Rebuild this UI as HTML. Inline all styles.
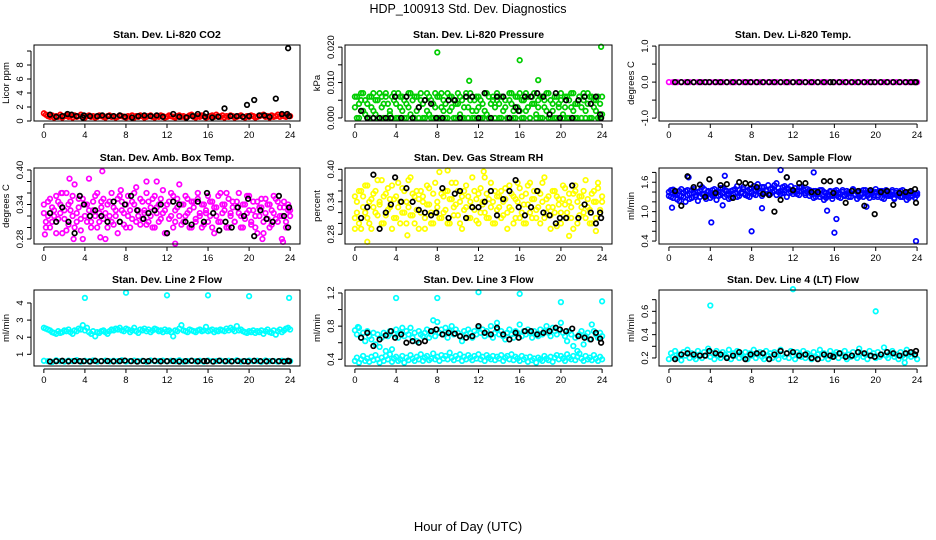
<!DOCTYPE html>
<html><head><meta charset="utf-8"><style>
html,body{margin:0;padding:0;background:#fff}
svg{display:block;font-family:"Liberation Sans",sans-serif}
</style></head><body>
<svg id="chart" width="936" height="540" viewBox="0 0 936 540" xmlns="http://www.w3.org/2000/svg">
<text x="468" y="13" text-anchor="middle" font-size="12.5">HDP_100913  Std. Dev. Diagnostics</text>
<text x="468" y="531" text-anchor="middle" font-size="13">Hour of Day (UTC)</text>
<g id="panels"></g>
</svg>
<script>
const blackHours=[.6,1.2,1.8,2.4,3.0,3.5,3.9,4.5,5.0,5.6,6.2,6.8,7.4,7.9,8.5,9.1,9.7,10.2,10.8,11.4,12.0,12.6,13.2,13.8,14.4,15.0,15.6,15.9,16.5,17.1,17.7,18.3,18.9,19.5,19.9,20.5,21.1,21.7,22.3,22.9,23.4,23.8,23.9];
const xTicks=[0,4,8,12,16,20,24];

const co2Red=[1.1,.9,.7,.6,.8,.5,.7,.6,.9,.5,.7,.8,.6,.7,.5,.8,.6,.7,.9,.6,.5,.7,.8,.6,.7,.5,.6,.8,.7,.6,.5,.7,.8,.6,.7,.5,.6,.8,.7,.6,.5,.7,.6,.8,.5,.7,.6,.8,.7,.5,.6,.7,.8,.6,.5,.7,.6,.8,.7,.5,.6,.8,.7,.6,.5,.7,.8,.6,.7,.5,.6,.8,.9,.6,.5,.7,.6,.8,.7,.5,.6,.7,.8,.6,.9,.7,.6,.8,.5,.7,.6,.8,.7,.5,.6,.7,.8,.6,.5,.7,.6,.8,.7,.5,.6,.7,.8,.9,.6,.7,.5,.8,.6,.7,.9,.6,.8,.7,.6,.8,.7];
const co2BlackHours=[.6,1.2,1.8,2.3,2.7,3.2,3.8,3.9,4.5,5.2,5.7,6.3,6.8,7.4,7.9,8.6,9.2,9.8,10.4,11.0,11.6,12.6,13.2,13.9,14.5,15.0,15.7,15.8,16.4,17.0,17.6,18.2,18.8,19.4,19.8,20.0,20.5,21.0,21.5,22.0,22.6,23.2,23.7,23.8,23.9];
const co2Black=[.9,.6,.7,1.0,.9,.7,.5,.8,.7,.7,.8,.7,.7,.8,.6,.5,.7,.8,.7,.8,.6,1.0,.6,.5,.7,1.0,.6,1.1,.5,.6,1.8,.7,.7,.6,2.3,.7,3.0,.8,.8,.6,3.2,1.0,1.0,10.4,.7];

const presGreenA=[.006,.000,.004,.007,.002,.005,.000,.006,.003,.007,.001,.005,.000,.006,.004,.007,.000,.002,.006,.005,.000,.007,.003,.006,.000,.004,.007,.001,.005,.000,.006,.003,.007,.000,.005,.002,.006,.000,.004,.007,.000,.006,.003,.005,.000,.007,.002,.006,.000,.004,.007,.001,.005,.000,.006,.003,.007,.000,.005,.002,.006,.000,.004,.007,.001,.006,.000,.005,.003,.007,.000,.006,.002,.005,.000,.007,.004,.000,.006,.003,.007,.000,.005,.002,.006,.000,.004,.007,.001,.005,.000,.006,.003,.007,.000,.005,.002,.006,.000,.004,.007,.001,.006,.000,.005,.003,.007,.000,.004,.006,.000,.005,.002,.007,.000,.006,.003,.005,.000,.004,.001];
const presGreenB=[.003,.006,.000,.005,.007,.001,.004,.000,.006,.002,.005,.000,.007,.003,.000,.006,.004,.001,.000,.007,.004,.000,.006,.002,.005,.000,.003,.007,.000,.006,.002,.000,.005,.004,.000,.007,.001,.005,.000,.003,.006,.000,.007,.002,.004,.000,.006,.003,.005,.000,.004,.006,.000,.003,.007,.000,.005,.002,.000,.006,.003,.005,.000,.002,.007,.000,.004,.006,.000,.005,.004,.000,.006,.003,.000,.005,.007,.002,.000,.006,.002,.005,.000,.007,.003,.000,.006,.004,.000,.003,.006,.000,.005,.002,.007,.000,.004,.000,.006,.003,.005,.000,.003,.006,.000,.007,.002,.004,.000,.006,.003,.007,.000,.004,.006,.000,.005,.002,.006,.000,.006];
const presOutHours=[8.0,11.1,16.0,17.8,23.9];
const presOut=[.0185,.0105,.0163,.0107,.0201];
const presBlack=[.002,.000,.000,.000,.000,.000,.006,.000,.006,.000,.003,.005,.004,.000,.000,.005,.005,.000,.006,.006,.000,.007,.000,.006,.006,.000,.003,.002,.006,.006,.007,.006,.001,.007,.000,.005,.000,.005,.006,.004,.006,.001,.000];

const tempMag=[0,0,0,0,0,0,0,0,0,0,0,0,0,0,0,0,0,0,0,0,0,0,0,0,0,0,0,0,0,0,0,0,0,0,0,0,0,0,0,0,0,0,0,0,0,0,0,0,0,0,0,0,0,0,0,0,0,0,0,0,0];
const tempBlack=[0,0,0,0,0,0,0,0,0,0,0,0,0,0,0,0,0,0,0,0,0,0,0,0,0,0,0,0,0,0,0,0,0,0,0,0,0,0,0,0,0,0,0];

const ambA=[.325,.31,.345,.30,.335,.32,.355,.315,.34,.29,.33,.36,.305,.345,.32,.375,.31,.335,.295,.35,.32,.34,.385,.31,.33,.355,.30,.325,.345,.315,.28,.34,.32,.36,.305,.33,.35,.31,.345,.325,.30,.355,.33,.315,.34,.37,.32,.305,.345,.33,.36,.31,.335,.35,.30,.325,.34,.315,.365,.33,.29,.345,.32,.355,.31,.335,.375,.305,.34,.32,.35,.33,.30,.345,.315,.36,.325,.34,.305,.33,.355,.32,.345,.29,.335,.31,.36,.325,.34,.30,.35,.32,.335,.31,.345,.325,.30,.34,.315,.355,.33,.305,.345,.32,.29,.335,.35,.31,.325,.34,.30,.33,.355,.315,.345,.32,.28,.335,.31,.34,.33];
const ambB=[.34,.30,.32,.35,.31,.33,.29,.345,.325,.36,.315,.295,.34,.33,.355,.30,.325,.35,.315,.28,.34,.31,.33,.30,.345,.32,.36,.31,.335,.35,.325,.30,.345,.31,.335,.32,.29,.355,.33,.305,.34,.32,.30,.345,.36,.31,.33,.35,.315,.325,.305,.345,.32,.30,.355,.335,.31,.35,.325,.29,.34,.315,.36,.30,.33,.35,.32,.34,.31,.355,.325,.30,.345,.335,.31,.35,.32,.30,.34,.325,.31,.345,.30,.335,.32,.355,.31,.34,.33,.36,.30,.325,.345,.31,.335,.36,.32,.30,.34,.325,.355,.31,.33,.30,.345,.32,.335,.29,.35,.315,.34,.305,.325,.35,.31,.335,.32,.345,.30,.33,.32];
const ambOutHours=[2.5,5.7,7.5,10.0,12.8,1.7,21.3,23.3,0.1,2.9,5.5,11.0];
const ambOut=[.385,.398,.365,.38,.272,.36,.28,.275,.288,.28,.283,.38];
const ambBlack=[.325,.31,.335,.31,.29,.355,.34,.32,.33,.32,.31,.345,.31,.34,.355,.33,.315,.325,.33,.34,.29,.345,.34,.31,.305,.345,.31,.36,.325,.295,.31,.30,.335,.32,.35,.285,.33,.315,.31,.355,.32,.30,.335];

const rhA=[.35,.32,.30,.36,.33,.37,.31,.34,.29,.355,.32,.38,.335,.30,.35,.315,.365,.33,.29,.345,.31,.375,.34,.32,.36,.30,.33,.385,.315,.35,.325,.29,.36,.34,.31,.37,.335,.30,.355,.32,.34,.395,.31,.35,.325,.36,.30,.345,.33,.375,.315,.34,.29,.36,.33,.35,.31,.385,.325,.345,.30,.365,.335,.32,.355,.31,.375,.34,.30,.35,.33,.36,.315,.345,.29,.37,.325,.35,.31,.34,.365,.32,.30,.355,.335,.375,.31,.345,.325,.36,.30,.34,.385,.32,.35,.315,.33,.36,.295,.345,.32,.37,.335,.31,.355,.33,.29,.36,.34,.315,.35,.32,.38,.33,.30,.355,.34,.31,.365,.325,.34];
const rhB=[.31,.34,.36,.29,.35,.32,.37,.30,.345,.33,.36,.315,.34,.38,.30,.355,.325,.345,.37,.31,.35,.33,.30,.365,.32,.34,.38,.315,.355,.30,.36,.345,.32,.35,.29,.335,.365,.32,.30,.375,.33,.31,.355,.32,.36,.30,.345,.375,.315,.335,.36,.30,.35,.325,.37,.31,.34,.33,.36,.305,.355,.32,.34,.385,.31,.345,.33,.30,.36,.325,.35,.31,.34,.365,.32,.33,.355,.30,.345,.375,.31,.35,.335,.30,.37,.32,.345,.36,.31,.33,.355,.375,.31,.345,.33,.29,.36,.32,.35,.335,.30,.345,.365,.32,.34,.31,.355,.37,.30,.35,.33,.36,.31,.345,.325,.30,.36,.34,.375,.32,.35];
const rhOutHours=[1.2,5.1,9.0,12.5,20.8,0.0,23.4];
const rhOut=[.266,.278,.398,.396,.277,.29,.286];
const rhBlack=[.31,.33,.39,.29,.32,.335,.385,.34,.365,.34,.325,.32,.315,.32,.365,.31,.355,.36,.31,.33,.33,.34,.36,.315,.345,.36,.38,.33,.315,.33,.36,.32,.315,.30,.31,.31,.37,.31,.335,.32,.30,.32,.31];

const flowA=[1.40,1.30,1.45,1.35,1.25,1.42,1.32,1.38,1.20,1.44,1.36,1.28,1.46,1.34,1.40,1.30,1.50,1.36,1.26,1.42,1.38,1.32,1.46,1.24,1.40,1.34,1.48,1.30,1.42,1.36,1.28,1.44,1.38,1.52,1.32,1.40,1.46,1.34,1.42,1.30,1.48,1.36,1.44,1.56,1.38,1.32,1.50,1.42,1.36,1.46,1.40,1.54,1.34,1.48,1.42,1.38,1.52,1.30,1.46,1.40,1.36,1.48,1.42,1.34,1.50,1.44,1.38,1.46,1.32,1.40,1.28,1.42,1.36,1.30,1.44,1.24,1.38,1.32,1.40,1.26,1.42,1.34,1.38,1.28,1.44,1.32,1.36,1.40,1.30,1.46,1.34,1.26,1.42,1.38,1.30,1.44,1.36,1.28,1.40,1.34,1.46,1.30,1.38,1.42,1.26,1.36,1.40,1.32,1.44,1.28,1.38,1.34,1.42,1.30,1.36,1.24,1.40,1.32,1.38,1.28,1.34];
const flowB=[1.32,1.44,1.28,1.40,1.36,1.22,1.46,1.30,1.42,1.34,1.26,1.44,1.38,1.30,1.22,1.42,1.36,1.46,1.32,1.40,1.28,1.44,1.36,1.40,1.32,1.48,1.38,1.44,1.34,1.26,1.42,1.36,1.46,1.30,1.44,1.38,1.50,1.36,1.32,1.46,1.40,1.52,1.34,1.46,1.42,1.50,1.38,1.44,1.54,1.36,1.48,1.42,1.58,1.40,1.36,1.50,1.44,1.48,1.38,1.52,1.44,1.40,1.36,1.50,1.42,1.46,1.34,1.40,1.44,1.36,1.42,1.30,1.38,1.44,1.34,1.40,1.28,1.36,1.42,1.32,1.38,1.44,1.30,1.36,1.40,1.34,1.42,1.30,1.38,1.44,1.36,1.40,1.30,1.34,1.44,1.38,1.32,1.42,1.36,1.30,1.40,1.34,1.42,1.28,1.38,1.44,1.32,1.36,1.40,1.26,1.42,1.36,1.30,1.44,1.34,1.38,1.28,1.40,1.32,1.36,1.38];
const flowOutHours=[0.3,4.1,8.0,16.0,23.9,16.2,15.3,9.0,10.8,5.4,14.0,1.9,19.1,11.4,5.2];
const flowOut=[1.08,0.78,0.60,0.57,0.40,0.85,1.02,1.07,1.85,1.73,1.80,1.70,1.10,1.70,1.13];
const flowBlack=[1.42,1.12,1.72,1.50,1.55,1.30,1.66,1.38,1.54,1.56,1.28,1.60,1.58,1.56,1.50,1.36,1.34,1.00,1.24,1.70,1.44,1.58,1.58,1.40,1.40,1.62,1.62,1.38,1.62,1.18,1.42,1.42,1.12,1.44,0.95,1.40,1.42,1.14,1.38,1.40,1.42,1.46,1.18];

const l2Upper=[2.55,2.50,2.45,2.40,2.30,2.25,2.20,2.35,2.25,2.30,2.40,2.35,2.45,2.30,2.20,2.40,2.35,2.50,2.45,2.70,2.40,2.55,2.30,2.20,2.35,2.05,2.30,2.25,2.35,2.40,2.30,2.20,2.35,2.45,2.40,2.50,2.45,2.55,2.40,2.35,2.50,2.45,2.30,2.40,2.55,2.35,2.25,2.45,2.40,2.50,2.35,2.45,2.30,2.40,2.50,2.45,2.35,2.40,2.30,2.45,2.35,2.40,2.30,2.05,2.40,2.35,2.50,2.70,2.40,2.35,2.30,2.45,2.40,2.35,2.30,2.40,2.45,2.35,2.40,2.60,2.35,2.40,2.45,2.30,2.40,2.35,2.45,2.40,2.35,2.50,2.40,2.55,2.45,2.35,2.65,2.40,2.45,2.35,2.30,2.25,2.35,2.30,2.40,2.25,2.35,2.30,2.40,2.20,2.35,2.45,2.30,2.25,2.40,2.15,2.35,2.45,2.30,2.40,2.50,2.55,2.45];
const l2Lower=[.62,.60,.55,.65,.60,.58,.63,.60,.66,.57,.62,.60,.64,.58,.61,.63,.59,.62,.60,.65,.58,.61,.63,.60,.62,.57,.64,.60,.61,.63,.59,.62,.60,.65,.58,.61,.63,.60,.62,.57,.64,.60,.61,.63,.59,.62,.60,.65,.58,.61,.63,.60,.62,.57,.64,.60,.61,.58,.62,.60,.60];
const l2OutHours=[4.0,8.0,12.0,16.0,20.0,23.9];
const l2Out=[4.3,4.6,4.45,4.45,4.4,4.3];
const l2Black=[.58,.60,.62,.59,.61,.60,.60,.58,.62,.60,.61,.59,.60,.63,.60,.58,.61,.60,.62,.59,.60,.61,.58,.60,.62,.59,.61,.60,.58,.62,.60,.59,.61,.60,.58,.62,.60,.59,.61,.60,.58,.62,.60];

const l3Upper=[.75,.70,.78,.66,.72,.62,.74,.68,.64,.72,.58,.70,.55,.66,.72,.50,.68,.74,.52,.70,.76,.66,.72,.78,.68,.74,.70,.78,.66,.72,.62,.74,.70,.68,.72,.76,.66,.70,.74,.68,.85,.72,.76,.70,.78,.66,.74,.80,.70,.76,.72,.68,.62,.74,.70,.76,.72,.66,.74,.70,.78,.72,.76,.68,.74,.70,.80,.66,.72,.76,.70,.74,.68,.64,.72,.76,.70,.66,.74,.72,.82,.68,.74,.70,.76,.72,.66,.74,.70,.68,.76,.70,.74,.80,.72,.68,.78,.74,.70,.76,.84,.72,.68,.62,.74,.70,.56,.66,.50,.70,.74,.58,.68,.72,.64,.82,.74,.70,.66,.72,.68];
const l3Lower=[.38,.42,.36,.40,.44,.38,.41,.37,.43,.39,.45,.40,.36,.42,.38,.44,.40,.46,.37,.41,.43,.38,.40,.44,.36,.42,.39,.45,.41,.38,.43,.40,.46,.38,.42,.44,.39,.41,.47,.40,.43,.38,.45,.41,.44,.40,.48,.42,.39,.44,.41,.46,.38,.43,.40,.45,.42,.39,.44,.41,.46,.40,.43,.38,.45,.42,.40,.44,.39,.43,.41,.45,.38,.42,.44,.40,.46,.39,.43,.41,.38,.44,.40,.42,.37,.43,.39,.41,.36,.42,.40,.38,.44,.41,.39,.43,.37,.42,.45,.40,.44,.41,.38,.46,.42,.40,.44,.39,.43,.47,.41,.38,.44,.40,.42,.39,.45,.41,.38,.43,.40];
const l3OutHours=[4.0,8.0,12.0,16.0,20.0,24.0,0.3,7.6,13.8];
const l3Out=[1.14,1.14,1.21,1.19,1.09,1.10,.79,.87,.84];
const l3Black=[.66,.72,.56,.64,.69,.74,.66,.70,.60,.62,.60,.62,.74,.76,.70,.72,.71,.68,.66,.68,.80,.72,.70,.78,.70,.64,.72,.66,.74,.74,.70,.72,.74,.78,.76,.74,.77,.68,.66,.64,.72,.65,.60];

const l4Cyan=[.19,.24,.21,.26,.20,.23,.18,.25,.22,.27,.20,.24,.21,.19,.26,.23,.20,.25,.22,.28,.21,.24,.19,.26,.22,.20,.25,.23,.21,.27,.19,.24,.22,.26,.20,.23,.21,.25,.19,.24,.22,.27,.20,.23,.25,.21,.19,.26,.22,.24,.20,.25,.22,.19,.27,.23,.21,.24,.20,.26,.22,.19,.25,.23,.21,.26,.20,.24,.22,.19,.25,.21,.23,.27,.20,.24,.22,.19,.26,.21,.23,.25,.20,.24,.22,.26,.19,.23,.21,.25,.22,.20,.28,.24,.21,.23,.19,.26,.22,.24,.20,.25,.21,.23,.29,.22,.20,.24,.26,.21,.23,.19,.25,.22,.20,.27,.23,.21,.24,.22,.19];
const l4OutHours=[4.0,12.0,20.0,22.8];
const l4Out=[.65,.79,.60,.16];
const l4Black=[.19,.23,.24,.23,.22,.22,.26,.24,.23,.20,.22,.25,.19,.23,.24,.24,.19,.23,.26,.24,.25,.22,.23,.20,.19,.23,.22,.21,.24,.21,.22,.25,.24,.22,.21,.23,.25,.24,.22,.24,.25,.23,.26];

const panels=[
 {id:'co2',title:'Stan. Dev. Li-820 CO2',ylab:'Licor ppm',col:0,row:0,ylim:[0,10.86],yt:[0,2,4,6,8,10],yl:['0','2','4','6','8',''],color:'#ff0000',series:[co2Red],out:[[],[]],bx:co2BlackHours,black:co2Black},
 {id:'pressure',title:'Stan. Dev. Li-820 Pressure',ylab:'kPa',col:1,row:0,ylim:[-0.00086,0.0206],yt:[0,0.005,0.01,0.015,0.02],yl:['0.000','','0.010','','0.020'],color:'#00cd00',series:[presGreenA,presGreenB],out:[presOutHours,presOut],bx:blackHours,black:presBlack},
 {id:'temp',title:'Stan. Dev. Li-820 Temp.',ylab:'degrees C',col:2,row:0,ylim:[-1.08,1.03],yt:[-1,-0.5,0,0.5,1],yl:['-1.0','','0.0','','1.0'],color:'#ff00ff',series:[tempMag],out:[[],[]],bx:blackHours,black:tempBlack},
 {id:'amb-box-temp',title:'Stan. Dev. Amb. Box Temp.',ylab:'degrees C',col:0,row:1,ylim:[0.2713,0.4035],yt:[.28,.30,.32,.34,.36,.38,.40],yl:['0.28','','','0.34','','','0.40'],color:'#ff00ff',series:[ambA,ambB],out:[ambOutHours,ambOut],bx:blackHours,black:ambBlack},
 {id:'gas-rh',title:'Stan. Dev. Gas Stream RH',ylab:'percent',col:1,row:1,ylim:[0.262,0.4024],yt:[.28,.30,.32,.34,.36,.38,.40],yl:['0.28','','','0.34','','','0.40'],color:'#ffff00',series:[rhA,rhB],out:[rhOutHours,rhOut],bx:blackHours,black:rhBlack},
 {id:'sample-flow',title:'Stan. Dev. Sample Flow',ylab:'ml/min',col:2,row:1,ylim:[0.34,1.89],yt:[.4,.6,.8,1.0,1.2,1.4,1.6,1.8],yl:['0.4','','','1.0','','','1.6',''],color:'#0000ff',series:[flowA,flowB],out:[flowOutHours,flowOut],bx:blackHours,black:flowBlack},
 {id:'line2-flow',title:'Stan. Dev. Line 2 Flow',ylab:'ml/min',col:0,row:2,ylim:[0.316,4.76],yt:[1,2,3,4],yl:['1','2','3','4'],color:'#00ffff',series:[l2Upper,l2Lower],out:[l2OutHours,l2Out],bx:blackHours,black:l2Black},
 {id:'line3-flow',title:'Stan. Dev. Line 3 Flow',ylab:'ml/min',col:1,row:2,ylim:[0.319,1.236],yt:[.4,.6,.8,1.0,1.2],yl:['0.4','','0.8','','1.2'],color:'#00ffff',series:[l3Upper,l3Lower],out:[l3OutHours,l3Out],bx:blackHours,black:l3Black},
 {id:'line4-flow',title:'Stan. Dev. Line 4 (LT) Flow',ylab:'ml/min',col:2,row:2,ylim:[0.131,0.783],yt:[.2,.3,.4,.5,.6,.7],yl:['0.2','','0.4','','0.6',''],color:'#00ffff',series:[l4Cyan],out:[l4OutHours,l4Out],bx:blackHours,black:l4Black}
];
const colX=[[34,300],[345,612],[659,927]];
const rowY=[[45,121],[168,244],[290,366]];
const NS='http://www.w3.org/2000/svg';
const root=document.getElementById('panels');
function mk(tag,attrs,parent){const e=document.createElementNS(NS,tag);for(const k in attrs)e.setAttribute(k,attrs[k]);parent.appendChild(e);return e;}
panels.forEach(p=>{
 const [L,R]=colX[p.col],[T,B]=rowY[p.row];
 const xs=h=>L+(R-L)*(h+0.96)/25.92;
 const ys=v=>B-(B-T)*(v-p.ylim[0])/(p.ylim[1]-p.ylim[0]);
 const g=mk('g',{},root);
 
 
 const t=mk('text',{x:(L+R)/2,y:T-7,'text-anchor':'middle','font-size':'10.5','font-weight':'bold'},g);t.textContent=p.title;
 
 
 const yl=mk('text',{x:0,y:0,'text-anchor':'middle','font-size':'9.5',transform:`translate(${L-25},${(T+B)/2}) rotate(-90)`},g);yl.textContent=p.ylab;
 
 
 const pts=mk('g',{fill:'none','stroke-width':'1.7'},g);
 
 
 p.series.forEach(arr=>{arr.forEach((v,i)=>{const h=24*i/(arr.length-1);const c=mk('circle',{cx:xs(h).toFixed(1),cy:ys(v).toFixed(1),r:2.3,stroke:p.color},pts);
  
  });});
 p.out[0].forEach((h,i)=>{const c=mk('circle',{cx:xs(h).toFixed(1),cy:ys(p.out[1][i]).toFixed(1),r:2.3,stroke:p.color},pts);
  
  });
 p.black.forEach((v,i)=>{const h=p.bx[i];if(h===undefined)return;const c=mk('circle',{cx:xs(h).toFixed(1),cy:ys(v).toFixed(1),r:2.3,stroke:'#000'},pts);
  
  });
 const box=mk('rect',{x:L,y:T,width:R-L,height:B-T,fill:'none',stroke:'#000','stroke-width':'1'},g);
 
 
 const ax=mk('g',{stroke:'#000','stroke-width':'1'},g);
 
 
 mk('line',{x1:xs(0),x2:xs(24),y1:B+3,y2:B+3},ax);
 xTicks.forEach(h=>{mk('line',{x1:xs(h),x2:xs(h),y1:B+3,y2:B+7},ax);
  const tl=mk('text',{x:xs(h),y:B+17,'text-anchor':'middle','font-size':'9.5',stroke:'none',fill:'#000'},g);tl.textContent=h;
  
  });
 const yt0=ys(p.yt[0]),yt1=ys(p.yt[p.yt.length-1]);
 mk('line',{x1:L-3,x2:L-3,y1:yt0,y2:yt1},ax);
 p.yt.forEach((v,i)=>{const y=ys(v);mk('line',{x1:L-7,x2:L-3,y1:y,y2:y},ax);
  if(p.yl[i]){const tl=mk('text',{x:0,y:0,'text-anchor':'middle','font-size':'9.5',stroke:'none',fill:'#000',transform:`translate(${L-11},${y}) rotate(-90)`},g);tl.textContent=p.yl[i];
  
  }});
});
</script>
</body></html>
